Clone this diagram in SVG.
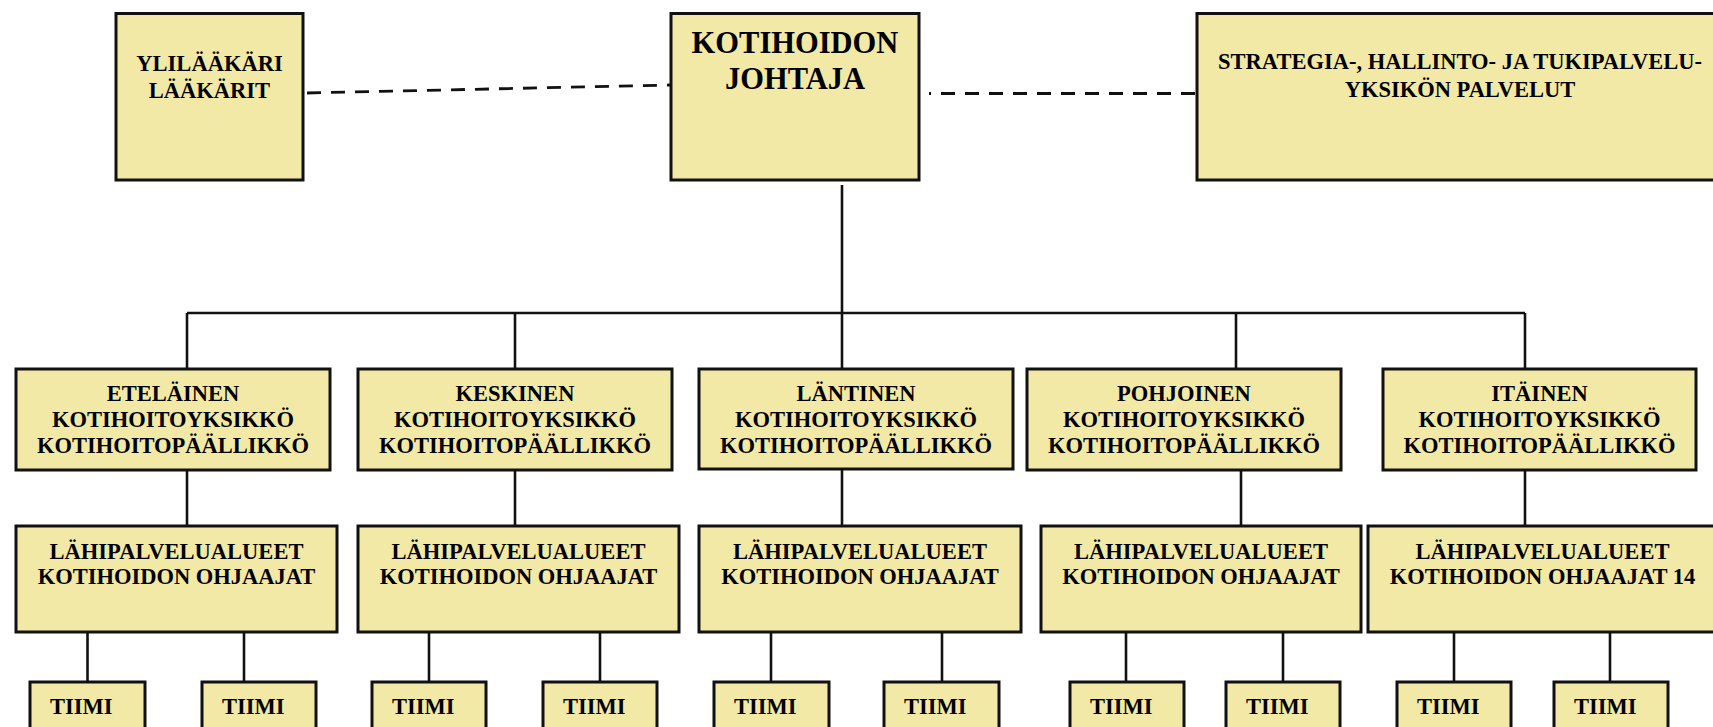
<svg xmlns="http://www.w3.org/2000/svg" width="1713" height="727" viewBox="0 0 1713 727">
<style>
.box{fill:#F3E9A6;stroke:#111;stroke-width:3}
.t{font-family:"Liberation Serif","Times New Roman",serif;font-weight:bold;font-size:22.5px;fill:#000;text-anchor:middle}
.big{font-size:30.5px}
.tm{text-anchor:start}
.ln{stroke:#111;stroke-width:2.6;fill:none}
.dash{stroke:#111;stroke-width:2.8;fill:none;stroke-dasharray:14 10}
</style>
<rect width="1713" height="727" fill="#fff"/>
<g id="connectors">
<line class="dash" x1="307" y1="93" x2="670" y2="85"/>
<line class="dash" x1="929" y1="93.5" x2="1196" y2="93.5" stroke-dashoffset="12"/>
<line class="ln" x1="842" y1="185" x2="842" y2="370"/>
<line class="ln" x1="187" y1="313" x2="1525" y2="313"/>
<line class="ln" x1="187" y1="313" x2="187" y2="370"/>
<line class="ln" x1="515" y1="313" x2="515" y2="370"/>
<line class="ln" x1="1236" y1="313" x2="1236" y2="370"/>
<line class="ln" x1="1525" y1="313" x2="1525" y2="370"/>
<line class="ln" x1="187" y1="470" x2="187" y2="528"/>
<line class="ln" x1="515" y1="470" x2="515" y2="528"/>
<line class="ln" x1="842" y1="469" x2="842" y2="528"/>
<line class="ln" x1="1241" y1="470" x2="1241" y2="528"/>
<line class="ln" x1="1525" y1="470" x2="1525" y2="528"/>
<line class="ln" x1="87.5" y1="627" x2="87.5" y2="683"/>
<line class="ln" x1="244" y1="627" x2="244" y2="683"/>
<line class="ln" x1="429" y1="627" x2="429" y2="683"/>
<line class="ln" x1="600" y1="627" x2="600" y2="683"/>
<line class="ln" x1="771" y1="627" x2="771" y2="683"/>
<line class="ln" x1="942" y1="627" x2="942" y2="683"/>
<line class="ln" x1="1126" y1="627" x2="1126" y2="683"/>
<line class="ln" x1="1283" y1="627" x2="1283" y2="683"/>
<line class="ln" x1="1454" y1="627" x2="1454" y2="683"/>
<line class="ln" x1="1610" y1="627" x2="1610" y2="683"/>
</g>
<g id="ylilaakari">
<rect class="box" x="116" y="13.5" width="187" height="166.5"/>
<text class="t" x="209.5" y="71">YLILÄÄKÄRI</text>
<text class="t" x="209.5" y="98">LÄÄKÄRIT</text>
</g>
<g id="johtaja">
<rect class="box" x="671" y="13.5" width="248" height="166.5"/>
<text class="t big" x="795" y="53">KOTIHOIDON</text>
<text class="t big" x="795" y="89">JOHTAJA</text>
</g>
<g id="strategia">
<rect class="box" x="1197" y="13.5" width="526" height="166.5"/>
<text class="t" x="1460" y="68.5">STRATEGIA-, HALLINTO- JA TUKIPALVELU-</text>
<text class="t" x="1460" y="96.5">YKSIKÖN PALVELUT</text>
</g>
<g id="etelainen">
<rect class="box" x="16" y="369" width="314" height="101"/>
<text class="t" x="173" y="401">ETELÄINEN</text>
<text class="t" x="173" y="427">KOTIHOITOYKSIKKÖ</text>
<text class="t" x="173" y="452.5">KOTIHOITOPÄÄLLIKKÖ</text>
</g>
<g id="keskinen">
<rect class="box" x="358" y="369" width="314" height="101"/>
<text class="t" x="515" y="401">KESKINEN</text>
<text class="t" x="515" y="427">KOTIHOITOYKSIKKÖ</text>
<text class="t" x="515" y="452.5">KOTIHOITOPÄÄLLIKKÖ</text>
</g>
<g id="lantinen">
<rect class="box" x="699" y="369" width="314" height="100"/>
<text class="t" x="856" y="401">LÄNTINEN</text>
<text class="t" x="856" y="427">KOTIHOITOYKSIKKÖ</text>
<text class="t" x="856" y="452.5">KOTIHOITOPÄÄLLIKKÖ</text>
</g>
<g id="pohjoinen">
<rect class="box" x="1027" y="369" width="314" height="101"/>
<text class="t" x="1184" y="401">POHJOINEN</text>
<text class="t" x="1184" y="427">KOTIHOITOYKSIKKÖ</text>
<text class="t" x="1184" y="452.5">KOTIHOITOPÄÄLLIKKÖ</text>
</g>
<g id="itainen">
<rect class="box" x="1383" y="369" width="313" height="101"/>
<text class="t" x="1539.5" y="401">ITÄINEN</text>
<text class="t" x="1539.5" y="427">KOTIHOITOYKSIKKÖ</text>
<text class="t" x="1539.5" y="452.5">KOTIHOITOPÄÄLLIKKÖ</text>
</g>
<g id="lahi1">
<rect class="box" x="16" y="526" width="321" height="106"/>
<text class="t" x="176.5" y="558.5">LÄHIPALVELUALUEET</text>
<text class="t" x="176.5" y="584">KOTIHOIDON OHJAAJAT</text>
</g>
<g id="lahi2">
<rect class="box" x="358" y="526" width="321" height="106"/>
<text class="t" x="518.5" y="558.5">LÄHIPALVELUALUEET</text>
<text class="t" x="518.5" y="584">KOTIHOIDON OHJAAJAT</text>
</g>
<g id="lahi3">
<rect class="box" x="699" y="526" width="322" height="106"/>
<text class="t" x="860" y="558.5">LÄHIPALVELUALUEET</text>
<text class="t" x="860" y="584">KOTIHOIDON OHJAAJAT</text>
</g>
<g id="lahi4">
<rect class="box" x="1041" y="526" width="320" height="106"/>
<text class="t" x="1201" y="558.5">LÄHIPALVELUALUEET</text>
<text class="t" x="1201" y="584">KOTIHOIDON OHJAAJAT</text>
</g>
<g id="lahi5">
<rect class="box" x="1368" y="526" width="349" height="106"/>
<text class="t" x="1542.5" y="558.5">LÄHIPALVELUALUEET</text>
<text class="t" x="1542.5" y="584">KOTIHOIDON OHJAAJAT 14</text>
</g>
<g id="tiimi1"><rect class="box" x="30" y="682" width="115" height="60"/><text class="t tm" x="50" y="713.5">TIIMI</text></g>
<g id="tiimi2"><rect class="box" x="202" y="682" width="114" height="60"/><text class="t tm" x="222" y="713.5">TIIMI</text></g>
<g id="tiimi3"><rect class="box" x="372" y="682" width="114" height="60"/><text class="t tm" x="392" y="713.5">TIIMI</text></g>
<g id="tiimi4"><rect class="box" x="543" y="682" width="114" height="60"/><text class="t tm" x="563" y="713.5">TIIMI</text></g>
<g id="tiimi5"><rect class="box" x="714" y="682" width="115" height="60"/><text class="t tm" x="734" y="713.5">TIIMI</text></g>
<g id="tiimi6"><rect class="box" x="884" y="682" width="115" height="60"/><text class="t tm" x="904" y="713.5">TIIMI</text></g>
<g id="tiimi7"><rect class="box" x="1070" y="682" width="114" height="60"/><text class="t tm" x="1090" y="713.5">TIIMI</text></g>
<g id="tiimi8"><rect class="box" x="1226" y="682" width="114" height="60"/><text class="t tm" x="1246" y="713.5">TIIMI</text></g>
<g id="tiimi9"><rect class="box" x="1397" y="682" width="114" height="60"/><text class="t tm" x="1417" y="713.5">TIIMI</text></g>
<g id="tiimi10"><rect class="box" x="1554" y="682" width="114" height="60"/><text class="t tm" x="1574" y="713.5">TIIMI</text></g>
</svg>
